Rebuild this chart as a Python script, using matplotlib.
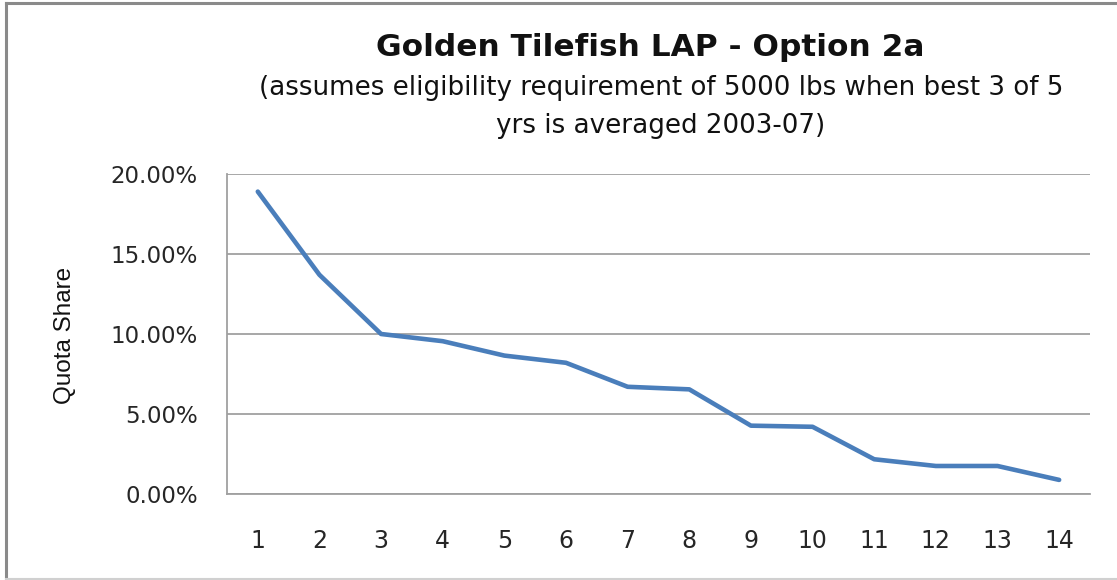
import matplotlib
matplotlib.use("Agg")
import matplotlib.pyplot as plt
from matplotlib.lines import Line2D
from matplotlib.ticker import FuncFormatter, MultipleLocator

# 各許可持有者的配額比例（依大小排序）
permit_rank = list(range(1, 15))
quota_share = [18.9, 13.7, 10.0, 9.55, 8.65, 8.2, 6.7, 6.54,
               4.27, 4.2, 2.17, 1.75, 1.75, 0.88]

title = "Golden Tilefish LAP - Option 2a"
subtitle = ("(assumes eligibility requirement of 5000 lbs when best 3 of 5\n"
            "yrs is averaged 2003-07)")
y_label = "Quota Share"

plt.rcParams["font.family"] = ["DejaVu Sans"]

fig = plt.figure(figsize=(11.17, 5.8), dpi=100)
ax = fig.add_axes([0.2032, 0.1483, 0.7726, 0.5517])

ax.plot(permit_rank, quota_share, color="#4A7EBB", lw=3.3,
        solid_joinstyle="round", solid_capstyle="round", zorder=3)

ax.set_xlim(0.5, 14.5)
ax.set_ylim(0, 20)
ax.set_xticks(permit_rank)
ax.yaxis.set_major_locator(MultipleLocator(5))
ax.yaxis.set_major_formatter(FuncFormatter(lambda v, p: f"{v:.2f}%"))

ax.grid(axis="y", color="#A0A0A0", lw=1.3)
ax.set_axisbelow(True)
for side in ["top", "right"]:
    ax.spines[side].set_visible(False)
for side in ["left", "bottom"]:
    ax.spines[side].set_color("#A0A0A0")
    ax.spines[side].set_linewidth(1.3)

ax.tick_params(axis="both", length=0, colors="#262626")
ax.tick_params(axis="y", pad=21, labelsize=16.5)
ax.tick_params(axis="x", pad=25, labelsize=17)

fig.text(65 / 1117, 1 - 335 / 580, y_label, rotation=90, fontsize=17.5,
         ha="center", va="center", color="#111111",
         family=["Liberation Sans Narrow", "Liberation Sans", "DejaVu Sans"])
fig.text(650 / 1117, 1 - 47 / 580, title, fontsize=22.5, fontweight="bold",
         ha="center", va="center", color="#111111")
fig.text(661 / 1117, 1 - 107 / 580, subtitle, fontsize=18.8, ha="center",
         va="center", linespacing=1.6, multialignment="center", color="#111111")

# 外框
fig.add_artist(Line2D([6 / 1117, 6 / 1117], [0, 1 - 3 / 580],
                      transform=fig.transFigure, color="#8A8A8A", lw=2.2))
fig.add_artist(Line2D([6 / 1117, 1], [1 - 3 / 580, 1 - 3 / 580],
                      transform=fig.transFigure, color="#8A8A8A", lw=2.2))
fig.add_artist(Line2D([6 / 1117, 1], [1.5 / 580, 1.5 / 580],
                      transform=fig.transFigure, color="#D0D0D0", lw=1.5))

fig.savefig("out.png", dpi=100)
